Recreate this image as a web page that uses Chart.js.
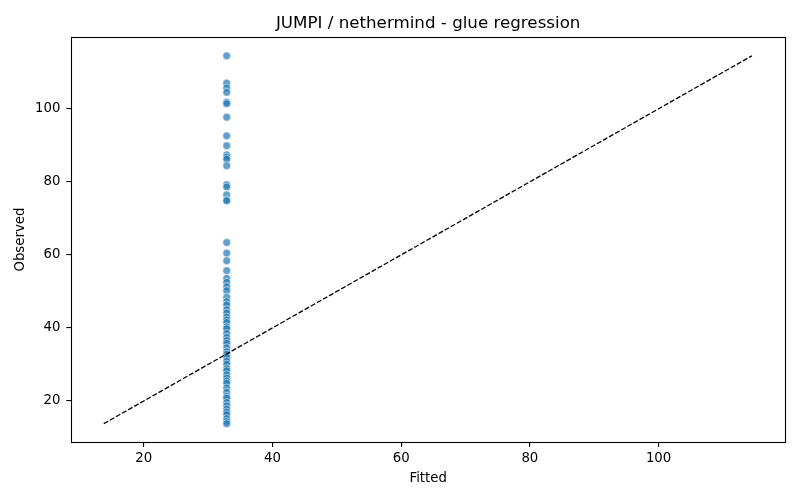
<!DOCTYPE html>
<html>
<head>
<meta charset="utf-8">
<script src="https://cdn.jsdelivr.net/npm/chart.js@4/dist/chart.umd.min.js"></script>
<style>
  html, body { margin: 0; padding: 0; background: #fff; }
  #c { display: block; }
</style>
</head>
<body>
<canvas id="c" width="800" height="500"></canvas>
<script>
const observed = [114.5, 107.0, 105.7, 104.5, 101.8, 101.4, 97.7, 92.6, 89.9, 87.4, 86.8, 86.2, 84.4,
  79.2, 78.6, 76.4, 75.1, 74.8, 63.4, 60.5, 58.4, 55.7, 53.6, 52.5, 51.3, 50.2, 48.4, 47.2, 46.3,
  45.0, 44.1, 43.0, 42.2, 41.5, 40.3, 39.8, 38.5, 37.4, 36.6, 35.8, 34.6, 33.5, 32.8, 32.0, 30.9,
  30.1, 28.9, 28.3, 27.2, 26.3, 25.5, 24.9, 23.6, 22.4, 21.3, 20.8, 19.6, 18.7, 17.8, 17.0, 16.3,
  15.2, 14.4, 13.8];
const fitted = [32.9, 32.9, 32.9, 32.9, 32.9, 32.9, 32.9, 32.9, 32.9, 32.9, 32.9, 32.9, 32.9,
  32.9, 32.9, 32.9, 32.9, 32.9, 32.9, 32.9, 32.9, 32.9, 32.9, 32.9, 32.9, 32.9, 32.9, 32.9, 32.9,
  32.9, 32.9, 32.9, 32.9, 32.9, 32.9, 32.9, 32.9, 32.9, 32.9, 32.9, 32.9, 32.9, 32.9, 32.9, 32.9,
  32.9, 32.9, 32.9, 32.9, 32.9, 32.9, 32.9, 32.9, 32.9, 32.9, 32.9, 32.9, 32.9, 32.9, 32.9, 32.9,
  32.9, 32.9, 32.9];
const refLine = [13.8, 114.5];
const xTicks = [20, 40, 60, 80, 100];
const yTicks = [20, 40, 60, 80, 100];
const axisMin = 8.76, axisMax = 119.64;

const points = observed.map((y, i) => ({ x: fitted[i], y: y }));
const linePts = refLine.map(v => ({ x: v, y: v }));

const FONT = 'DejaVu Sans';

const framePlugin = {
  id: 'frame',
  afterDatasetsDraw(chart) {
    const a = chart.chartArea, ctx = chart.ctx;
    ctx.save();
    ctx.strokeStyle = '#000';
    ctx.lineWidth = 1.1;
    ctx.strokeRect(Math.round(a.left) + 0.5, Math.round(a.top) + 0.5,
      Math.round(a.right - a.left), Math.round(a.bottom - a.top));
    ctx.restore();
  }
};

function axisCfg(ticksArr, title, titlePad) {
  return {
    type: 'linear',
    min: axisMin,
    max: axisMax,
    afterBuildTicks: (s) => { s.ticks = ticksArr.map(v => ({ value: v })); },
    grid: { display: true, drawOnChartArea: false, drawTicks: true, tickLength: 5, color: '#000', lineWidth: 1.1 },
    border: { display: false },
    ticks: { color: '#000', font: { family: FONT, size: 13.3 }, padding: 3, maxRotation: 0 },
    title: { display: true, text: title, color: '#000', font: { family: FONT, size: 13.3 }, padding: titlePad }
  };
}

const xCfg = axisCfg(xTicks, 'Fitted', { top: 2, bottom: 0 });
const yCfg = axisCfg(yTicks, 'Observed', { top: 0, bottom: 0 });
yCfg.ticks.padding = 6;

new Chart(document.getElementById('c'), {
  type: 'scatter',
  data: {
    datasets: [
      {
        type: 'line',
        data: linePts,
        borderColor: '#000',
        borderWidth: 1.3,
        borderDash: [5, 2],
        pointRadius: 0,
        fill: false,
        order: 0
      },
      {
        type: 'scatter',
        data: points,
        backgroundColor: 'rgba(31,119,180,0.7)',
        borderColor: 'rgba(255,255,255,0.7)',
        borderWidth: 0.75,
        pointRadius: 3.9,
        order: 1
      }
    ]
  },
  options: {
    responsive: false,
    devicePixelRatio: 1,
    animation: false,
    layout: { padding: { left: 13, right: 15, top: 0, bottom: 13 } },
    plugins: {
      legend: { display: false },
      tooltip: { enabled: false },
      title: {
        display: true,
        text: 'JUMPI / nethermind - glue regression',
        color: '#000',
        fullSize: false,
        font: { family: FONT, size: 16.7, weight: 'normal' },
        padding: { top: 14, bottom: 3 }
      }
    },
    scales: { x: xCfg, y: yCfg }
  },
  plugins: [framePlugin]
});
</script>
</body>
</html>
